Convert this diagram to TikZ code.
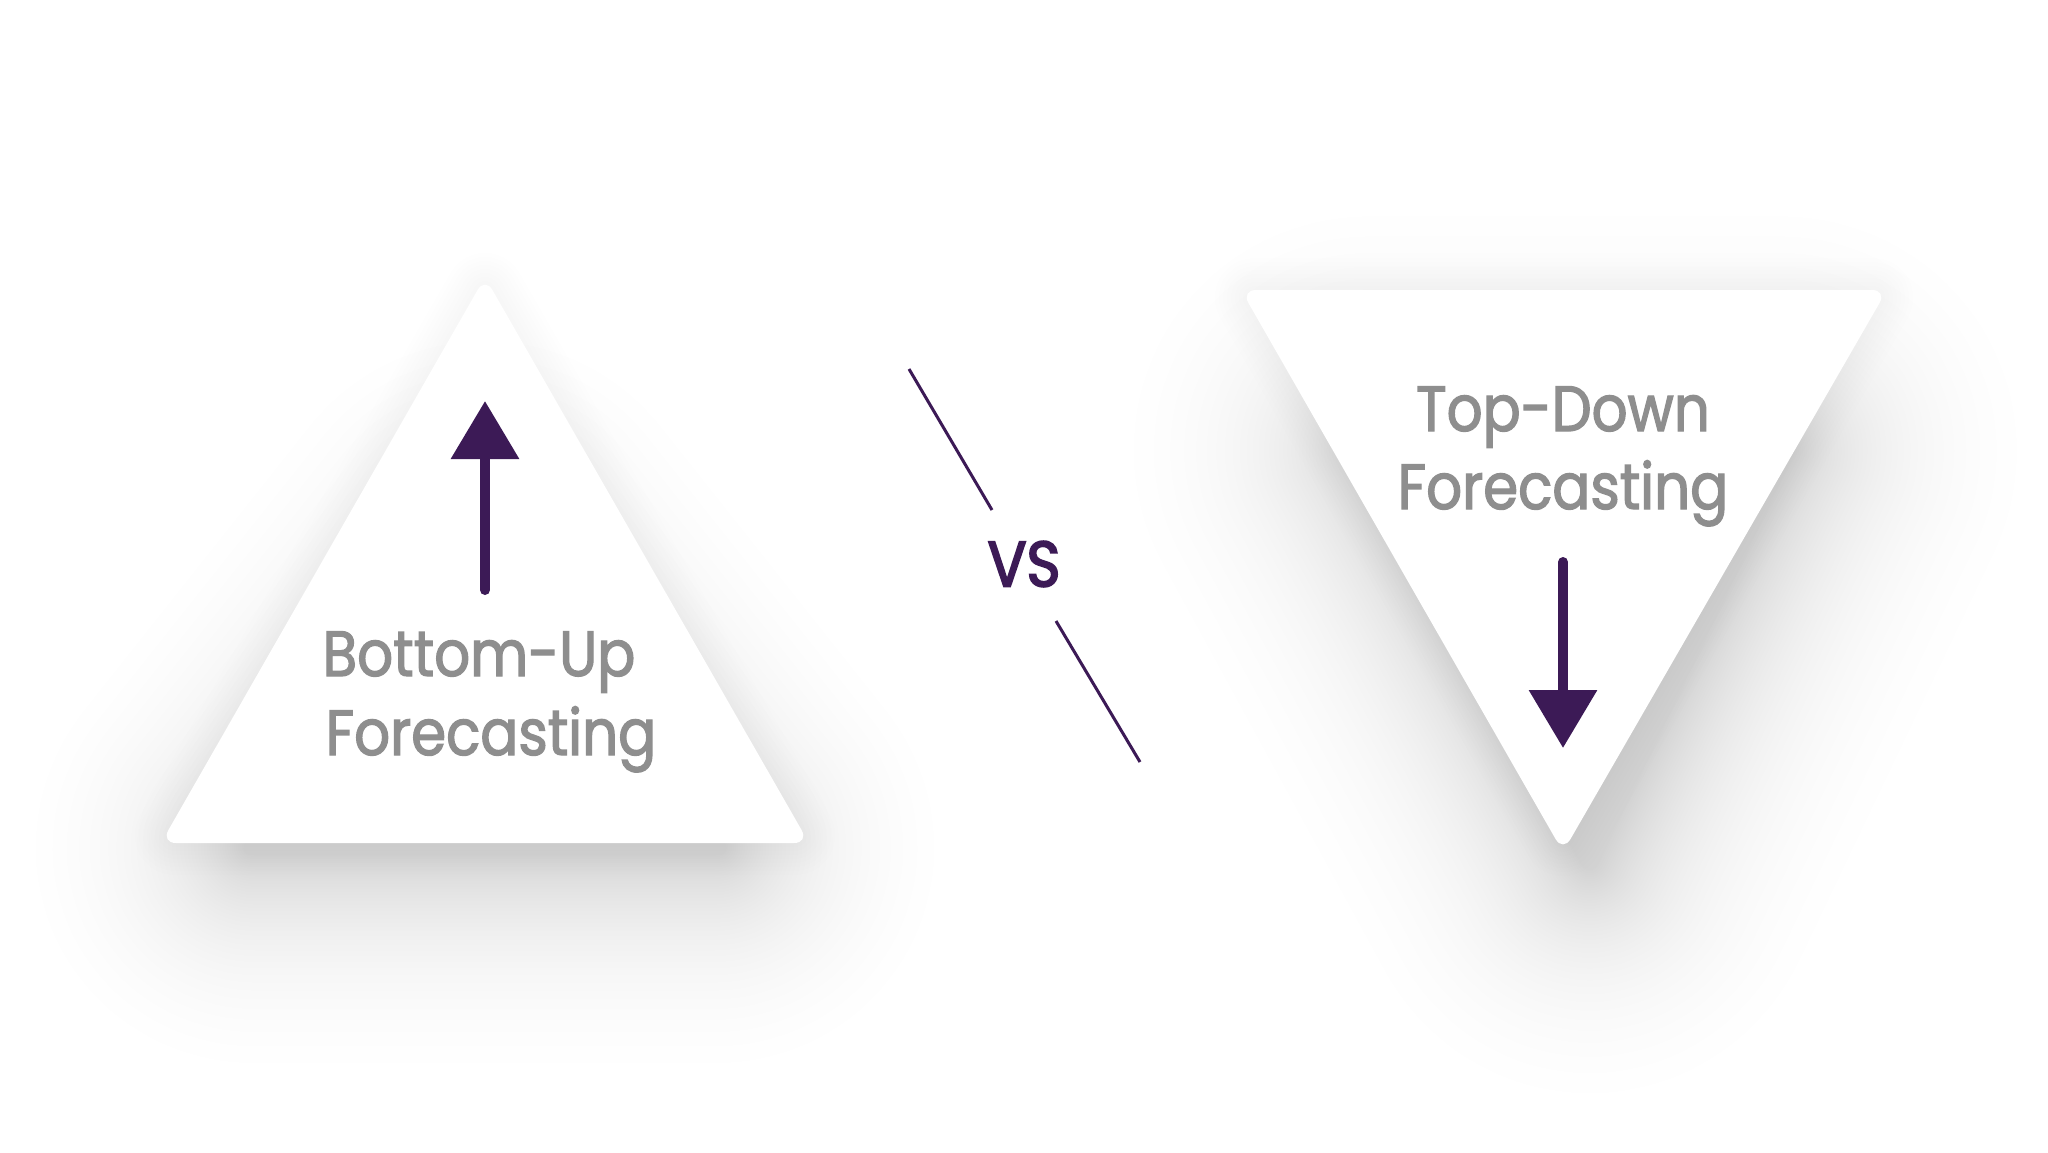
\documentclass[tikz,border=0pt]{standalone}
\usepackage{fontspec}
\setmainfont{Poppins}
\newfontfamily\labelfont[FakeStretch=0.88,FakeBold=2]{Poppins}
\newfontfamily\vsfont[FakeStretch=0.9,FakeBold=3]{Poppins}
\usetikzlibrary{arrows.meta}
\definecolor{vsPurple}{HTML}{3C1A56}
\definecolor{txtGray}{HTML}{8E8E8E}
\tikzset{
  card/.style={fill=white, rounded corners=15pt},
  lbl/.style={text=txtGray, font=\labelfont\fontsize{64}{70}\selectfont, anchor=base, inner sep=0},
  bigarrow/.style={draw=vsPurple, line width=10pt, line cap=round, -{Triangle[length=58pt,width=66pt]}},
  vsline/.style={draw=vsPurple, line width=3pt},
  shadowlayer/.style={black, line join=round, rounded corners=20pt},
  rimlayer/.style={black, line join=round, rounded corners=15pt},
}
\begin{document}
\begin{tikzpicture}[x=1pt,y=-1pt]
\useasboundingbox (0,0) rectangle (2048,1152);
\fill[white] (0,0) rectangle (2048,1152);

% soft shadow of the left (upward) triangle (exponential fall-off)
\foreach \i in {5,...,48}{
  \pgfmathsetmacro\w{2*92*ln(48/\i)}
  \begin{scope}[transparency group, opacity=0.0056]
    \filldraw[shadowlayer, line width=\w pt]
      (485,540) -- (235,855) -- (735,855) -- cycle;
  \end{scope}
}
% soft shadow of the right (downward) triangle
\foreach \i in {4,...,48}{
  \pgfmathsetmacro\w{2*90*ln(48/\i)}
  \begin{scope}[transparency group, opacity=0.0056]
    \filldraw[shadowlayer, line width=\w pt]
      (1350,440) -- (1800,440) -- (1590,880) -- cycle;
  \end{scope}
}
% faint rims round both cards
\foreach \i in {1,...,8}{
  \pgfmathsetmacro\w{2*4*\i}
  \begin{scope}[transparency group, opacity=0.004]
    \filldraw[rimlayer, line width=\w pt] (485,277) -- (161,843) -- (809,843) -- cycle;
    \filldraw[rimlayer, line width=\w pt] (1241,290) -- (1887,290) -- (1563,852) -- cycle;
  \end{scope}
}

% cards
\path[card] (485,277) -- (161,843) -- (809,843) -- cycle;
\path[card] (1241,290) -- (1887,290) -- (1563,852) -- cycle;

% up arrow
\coordinate (upTail) at (485,590);
\coordinate (upTip) at (485,401);
\draw[bigarrow] (upTail) -- (upTip);

% down arrow
\coordinate (dnTail) at (1563,562);
\coordinate (dnTip) at (1563,748);
\draw[bigarrow] (dnTail) -- (dnTip);

% labels
\node[lbl] (bu1) at (479,676) {Bottom-Up};
\node[lbl] (bu2) at (491,755) {Forecasting};
\node[lbl] (td1) at (1563,431) {Top-Down};
\node[lbl] (td2) at (1563,509) {Forecasting};

% vs
\node[text=vsPurple, font=\vsfont\fontsize{64}{70}\selectfont, inner sep=0] (vs) at (1024,564) {VS};
\coordinate (l1a) at (909,369);
\coordinate (l1b) at (992,510);
\coordinate (l2a) at (1056,621);
\coordinate (l2b) at (1140,762);
\draw[vsline] (l1a) -- (l1b);
\draw[vsline] (l2a) -- (l2b);
\end{tikzpicture}
\end{document}
